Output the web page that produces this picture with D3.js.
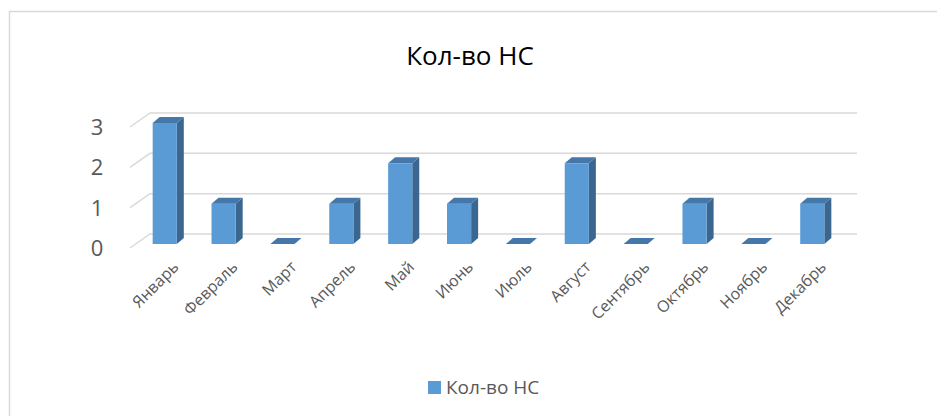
<!DOCTYPE html>
<html>
<head>
<meta charset="utf-8">
<script src="https://cdn.jsdelivr.net/npm/d3@7"></script>
<style>
  body { margin: 0; background: #fff; }
  text { font-family: "Open Sans", "Noto Sans", sans-serif; }
</style>
</head>
<body>
<div id="chart"></div>
<script>

var months = ["Январь", "Февраль", "Март", "Апрель", "Май", "Июнь",
              "Июль", "Август", "Сентябрь", "Октябрь", "Ноябрь", "Декабрь"];
var counts = [3, 1, 0, 1, 2, 1, 0, 2, 0, 1, 0, 1];
var yTicks = [0, 1, 2, 3];
var seriesName = "Кол-во НС";
var chartTitle = "Кол-во НС";

var svg_w = 937, svg_h = 416;

// 3d-ish geometry: floor depth of the side wall and of the bars
var wallDx = 20, wallDy = -14;
var barDx = 7, barDy = -6;
var barShiftX = 4, barShiftY = -4;   // bars sit a little behind the front edge

var svg = d3.select("#chart")
  .append("svg")
    .attr("width", svg_w)
    .attr("height", svg_h);

svg.append("rect")
  .attr("width", svg_w).attr("height", svg_h)
  .attr("fill", "#fff");

// outer chart border (runs off the right and bottom edges)
svg.append("rect")
  .attr("x", 9.5).attr("y", 11.5)
  .attr("width", svg_w + 10).attr("height", svg_h + 10)
  .attr("fill", "none")
  .attr("stroke", "#d9d9d9")
  .attr("stroke-width", 1.5);

// x band for the front plane
var x = d3.scaleBand()
  .domain(months)
  .range([131, 838])
  .paddingInner(0.59)
  .paddingOuter(0.3);

// y for the front edge of the floor
var y = d3.scaleLinear()
  .domain([0, 3])
  .range([248, 127]);

// gridlines: diagonal on the side wall + horizontal on the back wall
var grid = svg.append("g");
yTicks.forEach(function(t) {
  grid.append("path")
    .attr("d", "M" + 130 + "," + y(t) +
               "L" + (130 + wallDx) + "," + (y(t) + wallDy) +
               "L" + 857 + "," + (y(t) + wallDy))
    .attr("fill", "none")
    .attr("stroke", "#d9d9d9")
    .attr("stroke-width", 1.5);
});

// y labels
svg.append("g").selectAll("text")
  .data(yTicks)
  .enter().append("text")
    .attr("x", 97)
    .attr("y", function(d) { return y(d) + 2; })
    .attr("text-anchor", "middle")
    .attr("dominant-baseline", "middle")
    .attr("fill", "#595959")
    .style("font-size", "22px")
    .text(function(d) { return d; });

// bars
var bars = svg.append("g").selectAll("g")
  .data(months)
  .enter().append("g");

bars.each(function(m, i) {
  var g = d3.select(this);
  var x0 = x(m) + barShiftX, x1 = x0 + x.bandwidth();
  var yb = y(0) + barShiftY, yt = y(counts[i]) + barShiftY;

  if (counts[i] > 0) {
    // side face
    g.append("path")
      .attr("d", "M" + x1 + "," + yb + "L" + (x1 + barDx) + "," + (yb + barDy) +
                 "L" + (x1 + barDx) + "," + (yt + barDy) + "L" + x1 + "," + yt + "Z")
      .attr("fill", "#3a6690");
    // front face
    g.append("rect")
      .attr("x", x0).attr("y", yt)
      .attr("width", x1 - x0).attr("height", yb - yt)
      .attr("fill", "#5b9bd5");
  }
  // top face
  g.append("path")
    .attr("d", "M" + x0 + "," + yt + "L" + (x0 + barDx) + "," + (yt + barDy) +
               "L" + (x1 + barDx) + "," + (yt + barDy) + "L" + x1 + "," + yt + "Z")
    .attr("fill", "#4577a8");
});

// x labels, rotated
svg.append("g").selectAll("text")
  .data(months)
  .enter().append("text")
    .attr("transform", function(d) {
      var cx = x(d) + x.bandwidth() / 2 + 19;
      return "translate(" + cx + ",268) rotate(-45)";
    })
    .attr("text-anchor", "end")
    .attr("fill", "#595959")
    .style("font-size", "16px")
    .text(function(d) { return d; });

// title
svg.append("text")
  .attr("x", 470).attr("y", 65)
  .attr("text-anchor", "middle")
  .attr("fill", "#000")
  .style("font-size", "26px")
  .text(chartTitle);

// legend
svg.append("rect")
  .attr("x", 428).attr("y", 381)
  .attr("width", 13).attr("height", 13)
  .attr("fill", "#5b9bd5");
svg.append("text")
  .attr("x", 446).attr("y", 394)
  .attr("fill", "#595959")
  .style("font-size", "19px")
  .text(seriesName);

</script>
</body>
</html>
